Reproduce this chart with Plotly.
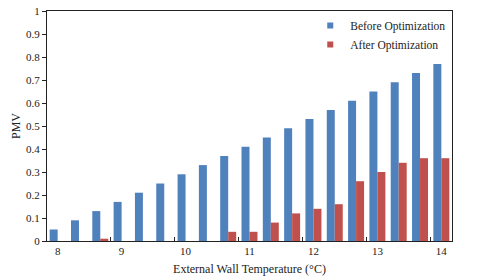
import plotly.graph_objects as go

temps = [8, 8.3333, 8.6667, 9, 9.3333, 9.6667, 10, 10.3333, 10.6667, 11,
         11.3333, 11.6667, 12, 12.3333, 12.6667, 13, 13.3333, 13.6667, 14]
before = [0.05, 0.09, 0.13, 0.17, 0.21, 0.25, 0.29, 0.33, 0.37, 0.41,
          0.45, 0.49, 0.53, 0.57, 0.61, 0.65, 0.69, 0.73, 0.77]
after = [0, 0, 0.01, 0, 0, 0, 0, 0, 0.04, 0.04,
         0.08, 0.12, 0.14, 0.16, 0.26, 0.30, 0.34, 0.36, 0.36]
x_ticks = [8, 9, 10, 11, 12, 13, 14]
y_ticks = [0, 0.1, 0.2, 0.3, 0.4, 0.5, 0.6, 0.7, 0.8, 0.9, 1]
y_labels = ["0", "0.1", "0.2", "0.3", "0.4", "0.5", "0.6", "0.7", "0.8", "0.9", "1"]
series_names = ["Before Optimization", "After Optimization"]
series_colors = ["#4F81BD", "#C0504D"]

FONT = "Liberation Serif, Times New Roman, serif"
step = 1 / 3

fig = go.Figure()
for vals, name, col in zip([before, after], series_names, series_colors):
    fig.add_trace(go.Bar(x=temps, y=vals, name=name, showlegend=False,
                         marker=dict(color=col, line=dict(width=0))))
for name, col in zip(series_names, series_colors):
    fig.add_trace(go.Scatter(x=[None], y=[None], mode="markers", name=name,
                             marker=dict(symbol="square", size=6, color=col)))

minor_vals = [round(t + 2.5 * step, 4) for t in x_ticks[:-1]]

fig.update_layout(
    width=480, height=277,
    margin=dict(l=47, r=28, t=11, b=36),
    paper_bgcolor="white", plot_bgcolor="white",
    barmode="group", bargap=0.25, bargroupgap=0,
    font=dict(family=FONT, size=11, color="#222"),
    showlegend=True,
    legend=dict(x=0.65, y=1.0, xanchor="left", yanchor="top",
                bgcolor="rgba(0,0,0,0)", font=dict(size=11.5, family=FONT),
                itemwidth=30, tracegroupgap=0),
    xaxis=dict(
        automargin=False,
        range=[8 - step / 2, 14 + step / 2],
        tickvals=x_ticks, ticktext=[str(v) for v in x_ticks],
        ticks="", showgrid=False, zeroline=False,
        showline=True, linecolor="#222", linewidth=1, mirror=True,
        minor=dict(tickvals=minor_vals, ticks="inside", ticklen=4,
                   tickcolor="#222", showgrid=False),
        tickfont=dict(size=11, family=FONT),
        title=dict(text="External Wall Temperature (°C)", font=dict(size=12, family=FONT),
                   standoff=8),
    ),
    yaxis=dict(
        automargin=False,
        range=[0, 1], tickvals=y_ticks, ticktext=y_labels,
        ticks="outside", ticklen=4, tickcolor="#222",
        showgrid=False, zeroline=False,
        showline=True, linecolor="#222", linewidth=1, mirror=True,
        tickfont=dict(size=11, family=FONT),
        title=dict(text="PMV", font=dict(size=12, family=FONT), standoff=2),
    ),
)

fig.write_html("out.html", config={"displayModeBar": False},
               post_script="document.body.style.margin='0px';")
